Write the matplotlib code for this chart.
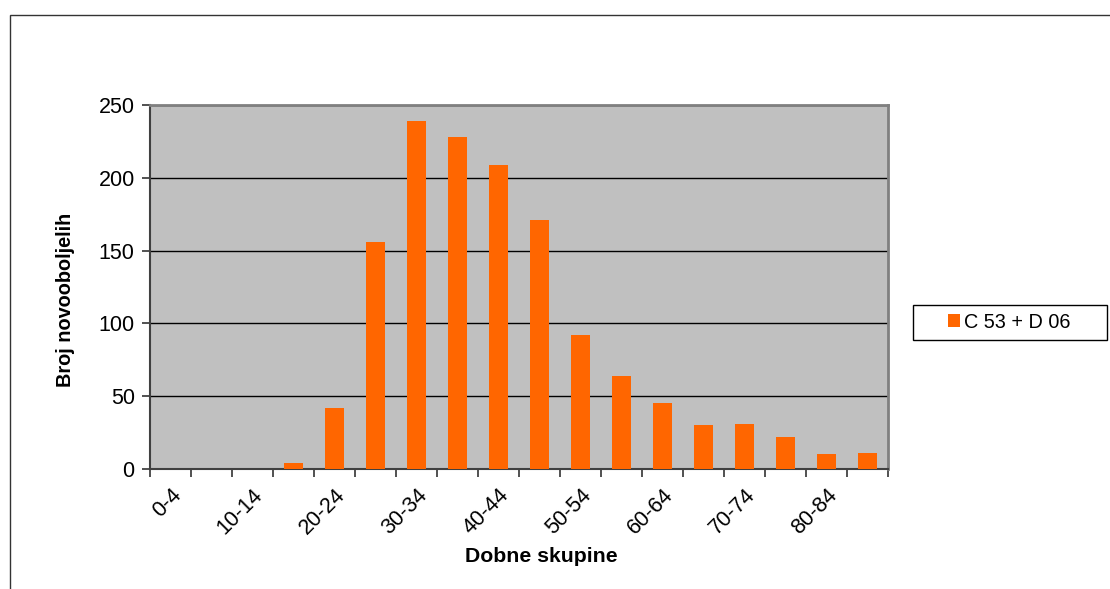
import numpy as np
import matplotlib.pyplot as plt
from matplotlib.patches import Rectangle

# Podatki
skupine = ['0-4', '5-9', '10-14', '15-19', '20-24', '25-29', '30-34', '35-39',
           '40-44', '45-49', '50-54', '55-59', '60-64', '65-69', '70-74',
           '75-79', '80-84', '85+']
vrednosti = [0, 0, 0, 4, 42, 156, 239, 228, 209, 171, 92, 64, 45, 30, 31, 22, 10, 11]
serija = 'C 53 + D 06'

plt.rcParams['font.family'] = ['Liberation Sans', 'DejaVu Sans']

fig = plt.figure(figsize=(11.1, 5.89), dpi=100)
ax = fig.add_axes([150/1110, 1 - 469/589, 738/1110, 364/589])

x = np.arange(len(skupine))
ax.bar(x, vrednosti, width=0.46, color='#ff6600', label=serija, zorder=3)

ax.set_facecolor('#c0c0c0')
ax.set_xlim(-0.5, len(skupine) - 0.5)
ax.set_ylim(0, 250)
ax.set_yticks(np.arange(0, 251, 50))
ax.yaxis.grid(True, color='black', linewidth=1, zorder=1)

# kljukice med kategorijami, oznake na vsako drugo kategorijo
ax.set_xticks(np.arange(-0.5, len(skupine), 1))
ax.set_xticklabels([])
oznake = [s if i < 9 else '' for i, s in enumerate(skupine[::2])]
ax.set_xticks(x[::2], minor=True)
ax.set_xticklabels(oznake, minor=True, rotation=45, ha='right', va='top',
                   rotation_mode='anchor', fontsize=15.5)
ax.tick_params(axis='x', which='minor', length=0, pad=11)
ax.tick_params(axis='x', which='major', length=6, width=1.2, color='#333333')
ax.tick_params(axis='y', length=6, width=1.2, color='#333333', labelsize=15.5, pad=5)

for s in ['top', 'right']:
    ax.spines[s].set_color('#808080')
    ax.spines[s].set_linewidth(2)
ax.spines['left'].set_color('#404040')
ax.spines['left'].set_linewidth(1.5)
ax.spines['bottom'].set_color('#404040')
ax.spines['bottom'].set_linewidth(1.5)

ax.set_xlabel('Dobne skupine', fontsize=15.3, fontweight='bold', labelpad=6,
              x=(541 - 150) / 738)
ax.set_ylabel('Broj novooboljelih', fontsize=14.3, fontweight='bold', labelpad=17,
              y=(469 - 300) / 364)

# legenda brez okvirja, okvir narisan posebej
leg = ax.legend(loc='center left', bbox_to_anchor=(948/1110, 1 - 322/589),
                bbox_transform=fig.transFigure, fontsize=14.3, frameon=False,
                handlelength=0.6, handleheight=0.6, handletextpad=0.2,
                borderpad=0, borderaxespad=0)
fig.patches.append(Rectangle((913/1110, 1 - 340/589), 194/1110, 35/589,
                             transform=fig.transFigure, fill=False,
                             edgecolor='black', linewidth=1))

# okvir grafikona
fig.patches.append(Rectangle((10/1110, -0.1), 1.2, 1 - 15/589 + 0.1,
                             transform=fig.transFigure, fill=False,
                             edgecolor='#333333', linewidth=1))

fig.savefig('out.png', dpi=100)
